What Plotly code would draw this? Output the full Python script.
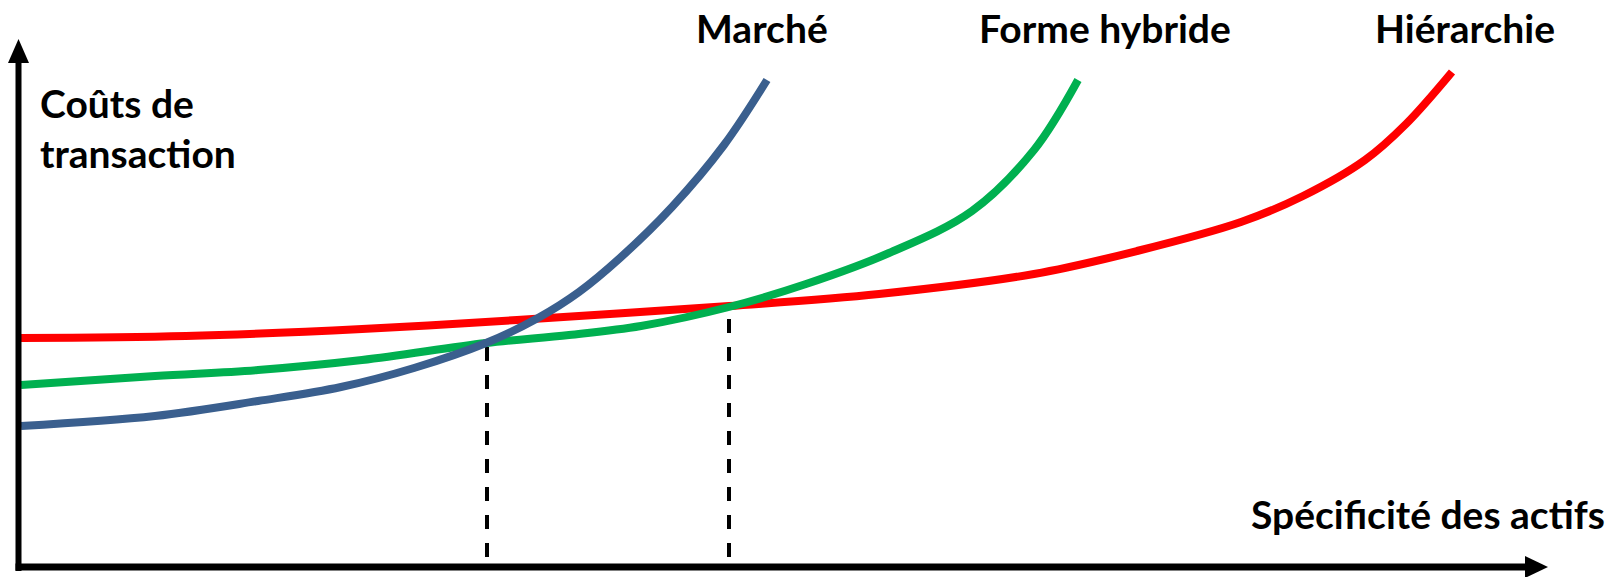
import plotly.graph_objects as go

# Conceptual units: x = asset specificity, y = transaction costs
marche_x = [1, 135, 238, 321, 394, 466, 518, 559, 600, 652, 704, 747]
marche_y = [141, 151, 166, 180, 199, 224, 249, 275, 309, 360, 422, 487]

hybride_x = [1, 135, 238, 342, 466, 549, 621, 709, 786, 869, 952, 1014, 1058]
hybride_y = [182, 191, 197, 207, 224, 232, 241, 260, 283, 314, 356, 417, 487]

hier_x = [1, 166, 342, 497, 709, 859, 1014, 1117, 1221, 1283, 1345, 1386, 1432]
hier_y = [229, 231, 238, 247, 261, 273, 293, 316, 345, 371, 407, 443, 495]

cross_x = [467, 709]
cross_top = [220, 252]

labels = ["Marché", "Forme hybride", "Hiérarchie"]
label_x = [742, 1085, 1445]
colors = ["#3A5F8E", "#00B050", "#FF0000"]

FONT = "Lato"
FS = 39

fig = go.Figure()

# dashed drop lines
for cx, ct in zip(cross_x, cross_top):
    fig.add_trace(go.Scatter(x=[cx, cx], y=[10, ct], mode="lines",
                             line=dict(color="black", width=4, dash="14px,14px"),
                             hoverinfo="skip", showlegend=False))

for xs, ys, c in [(hier_x, hier_y, colors[2]), (hybride_x, hybride_y, colors[1]), (marche_x, marche_y, colors[0])]:
    fig.add_trace(go.Scatter(x=xs, y=ys, mode="lines",
                             line=dict(color=c, width=8, shape="spline", smoothing=1.0),
                             hoverinfo="skip", showlegend=False))

# axes with arrows
shapes = [
    dict(type="line", x0=-1.5, y0=-4, x1=-1.5, y1=506, line=dict(color="black", width=6)),
    dict(type="path", path="M -12 504 L 9 504 L -1.5 528 Z", fillcolor="black", line=dict(width=0)),
    dict(type="line", x0=-4.5, y0=0, x1=1507, y1=0, line=dict(color="black", width=7)),
    dict(type="path", path="M 1505 11 L 1505 -11 L 1528 0 Z", fillcolor="black", line=dict(width=0)),
]

annotations = []
for t, lx in zip(labels, label_x):
    annotations.append(dict(x=lx, y=539, text="<b>" + t + "</b>", showarrow=False,
                            xanchor="center", yanchor="middle",
                            font=dict(family=FONT, size=FS, color="black")))
annotations.append(dict(x=18, y=464, text="<b>Coûts de</b>", showarrow=False,
                        xanchor="left", yanchor="middle",
                        font=dict(family=FONT, size=FS, color="black")))
annotations.append(dict(x=18, y=414, text="<b>transaction</b>", showarrow=False,
                        xanchor="left", yanchor="middle",
                        font=dict(family=FONT, size=FS, color="black")))
annotations.append(dict(x=1408, y=53, text="<b>Spécificité des actifs</b>", showarrow=False,
                        xanchor="center", yanchor="middle",
                        font=dict(family=FONT, size=FS, color="black")))

fig.update_layout(
    width=1621, height=577,
    margin=dict(l=0, r=0, t=0, b=0),
    paper_bgcolor="white", plot_bgcolor="white",
    xaxis=dict(range=[-20, 1601], visible=False, fixedrange=True),
    yaxis=dict(range=[-10, 567], visible=False, fixedrange=True),
    shapes=shapes, annotations=annotations, showlegend=False,
)

fig.write_html("out.html")
